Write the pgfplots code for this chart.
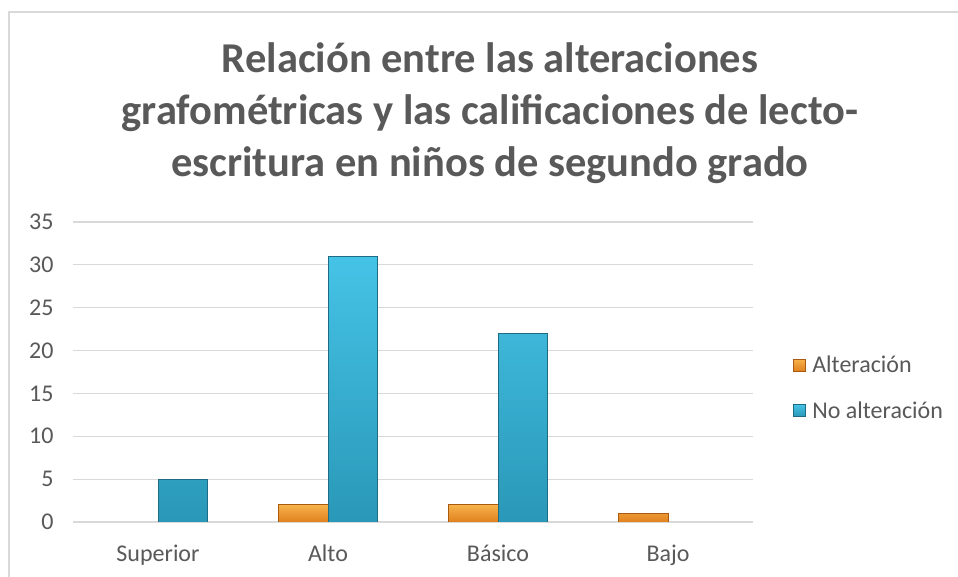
\documentclass[border=0pt]{standalone}
\usepackage{fontspec}
\setmainfont{Carlito}
\usepackage{pgfplots}
\pgfplotsset{compat=1.18}
\definecolor{txtgray}{HTML}{595959}
\definecolor{gridgray}{HTML}{D9D9D9}
\definecolor{framegray}{HTML}{D9D9D9}
\definecolor{bluetop}{HTML}{45C3E6}
\definecolor{bluebot}{HTML}{2A98B8}
\definecolor{blueedge}{HTML}{1E6C84}
\definecolor{orangetop}{HTML}{F7B24A}
\definecolor{orangebot}{HTML}{E0801E}
\definecolor{orangeedge}{HTML}{A95A10}
\begin{document}
\begin{tikzpicture}[x=1bp,y=1bp]
\useasboundingbox (0,0) rectangle (958,577);
\fill[white] (0,0) rectangle (958,577);
\draw[framegray, line width=2.5bp] (9,0) -- (9,565) -- (958,565);
\begin{scope}[font=\fontsize{42.5bp}{52bp}\selectfont\bfseries, text=txtgray]
\node[anchor=base] at (490,504) {Relación entre las alteraciones};
\node[anchor=base] at (490,452) {grafométricas y las calificaciones de lecto-};
\node[anchor=base] at (490,400) {escritura en niños de segundo grado};
\end{scope}
\begin{axis}[
  at={(73bp,55bp)}, anchor=south west,
  scale only axis, width=680bp, height=300bp,
  ybar=0pt, bar width=49.5bp,
  xmin=-0.5, xmax=3.5, ymin=0, ymax=35,
  xtick={0,1,2,3},
  xticklabels={Superior,Alto,Básico,Bajo},
  ytick={0,5,...,35},
  ymajorgrids, grid style={gridgray, line width=1.2bp},
  axis x line*=bottom, axis y line*=left,
  x axis line style={draw=gridgray, line width=1.8bp, -},
  y axis line style={draw=none},
  major tick length=0pt, tick style={draw=none},
  /pgf/number format/assume math mode=true,
  ticklabel style={font=\fontsize{24bp}{29bp}\selectfont, text=txtgray},
  yticklabel style={anchor=east, xshift=-16bp},
  xticklabel style={anchor=north, yshift=-19bp},
  legend image code/.code={\pgfpathrectangle{\pgfpoint{0bp}{-6bp}}{\pgfpoint{17bp}{12bp}}\pgfusepath{use as bounding box}\fill[#1] (0bp,-6bp) rectangle (12bp,6bp);},
  legend style={draw=none, fill=none, at={(1.059,0.447)}, anchor=west,
    font=\fontsize{24bp}{29bp}\selectfont, text=txtgray, row sep=23bp,
    inner sep=0pt},
  legend cell align=left,
]
\addplot[top color=orangetop, bottom color=orangebot, draw=orangeedge, line width=0.8bp]
  coordinates {(1,2) (2,2) (3,1)};
\addlegendentry{Alteración}
\addplot[top color=bluetop, bottom color=bluebot, draw=blueedge, line width=0.8bp]
  coordinates {(0,5) (1,31) (2,22)};
\addlegendentry{No alteración}
\end{axis}
\end{tikzpicture}
\end{document}
